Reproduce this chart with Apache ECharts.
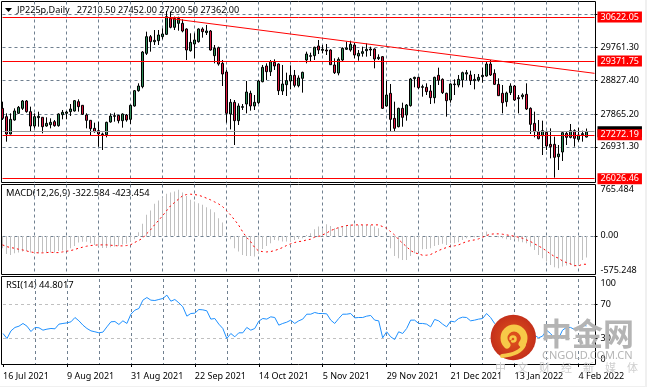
<!DOCTYPE html>
<html>
<head>
<meta charset="utf-8">
<title>JP225p Daily</title>
<script src="https://cdn.jsdelivr.net/npm/echarts@6/dist/echarts.min.js"></script>
<style>
  html, body { margin: 0; padding: 0; background: #f0f0f0; }
  #chart { width: 645px; height: 386px; background: #fff; }
</style>
</head>
<body>
<div id="chart"></div>
<script>
const tickLabels = ['16 Jul 2021', '9 Aug 2021', '31 Aug 2021', '22 Sep 2021', '14 Oct 2021',
  '5 Nov 2021', '29 Nov 2021', '21 Dec 2021', '13 Jan 2022', '4 Feb 2022']

// daily bars
const opens = [
  28026, 27789, 27297, 27695, 27884, 28026, 28235, 27932, 27524, 27761,
  27771, 27524, 27562, 27647, 27534, 27846, 27884, 27932, 27951, 28216,
  28112, 27837, 27685, 27458, 27391, 27297, 27278, 27638, 27799, 27827,
  27676, 27837, 27714, 28093, 28528, 28642, 29589, 30063, 29921, 29949,
  30063, 30129, 30584, 30328, 30442, 30442, 30281, 29665, 29855, 29921,
  30281, 30177, 30224, 29523, 29750, 29305, 29059, 27865, 28197, 27676,
  28055, 28149, 28453, 28093, 28187, 28784, 29229, 29068, 29334, 29286,
  28519, 28699, 28803, 28964, 28670, 28879, 29400, 29504, 29523, 29798,
  29675, 29684, 29684, 29258, 29030, 29400, 29703, 29684, 29826, 29514,
  29589, 29665, 29684, 29712, 29438, 29495, 28093, 28453, 27742, 27505,
  28026, 27837, 28102, 28869, 28907, 28623, 28623, 28519, 28329, 28964,
  28850, 28453, 28263, 28699, 28689, 28832, 29002, 28974, 28813, 28832,
  28926, 28945, 29286, 29021, 28708, 28453, 28216, 28472, 28661, 28329,
  28358, 28424, 28026, 27600, 27363, 27249, 27344, 27003, 27003, 26653,
  26785, 27316, 27202, 27391, 27145, 27278, 27210.5]
const closes = [
  27742, 27297, 27714, 27951, 28055, 28235, 27932, 27524, 27789, 27799,
  27505, 27600, 27628, 27534, 27865, 27913, 27922, 28007, 28244, 28074,
  27856, 27685, 27448, 27363, 27297, 27278, 27628, 27808, 27818, 27676,
  27865, 27695, 28112, 28528, 28661, 29627, 30063, 29921, 29959, 30110,
  30139, 30631, 30328, 30584, 30584, 30224, 29684, 29902, 29968, 30281,
  30205, 30224, 29684, 29731, 29286, 29002, 27884, 28197, 27676, 28093,
  28074, 28490, 28093, 28197, 28803, 29191, 29068, 29352, 29229, 28528,
  28718, 28813, 28964, 28680, 28888, 29049, 29570, 29523, 29760, 29684,
  29703, 29656, 29267, 29040, 29419, 29731, 29741, 29845, 29542, 29589,
  29637, 29703, 29712, 29428, 29476, 28026, 28405, 27714, 27458, 28026,
  27771, 28121, 28860, 28907, 28614, 28642, 28500, 28329, 28907, 28822,
  28472, 28244, 28718, 28718, 28850, 29040, 29040, 28813, 28850, 28907,
  28964, 29286, 28974, 28708, 28386, 28187, 28462, 28661, 28263, 28301,
  28405, 28007, 27571, 27363, 27164, 27391, 26956, 26937, 26634, 26728,
  27335, 27202, 27391, 27174, 27268, 27306, 27362]
const lows = [
  27695, 27079, 27287, 27676, 27865, 27979, 27903, 27363, 27458, 27505,
  27316, 27505, 27458, 27505, 27505, 27714, 27714, 27808, 27932, 27932,
  27837, 27458, 27249, 27335, 26937, 26842, 27202, 27619, 27647, 27600,
  27477, 27647, 27581, 28074, 28500, 28595, 29542, 29637, 29826, 29826,
  29987, 30110, 30300, 30252, 30233, 30186, 29400, 29637, 29447, 29892,
  30035, 30110, 29665, 29305, 29239, 28661, 27619, 27429, 26984, 27553,
  27979, 27884, 27960, 27979, 28149, 28765, 28832, 28945, 29116, 28405,
  28405, 28377, 28566, 28623, 28623, 28472, 29305, 29352, 29400, 29570,
  29589, 29542, 29258, 29002, 28964, 29371, 29684, 29637, 29447, 29381,
  29495, 29495, 29514, 29163, 29400, 28007, 28074, 27363, 27382, 27486,
  27505, 27676, 28074, 28623, 28566, 28358, 28405, 28149, 28168, 28689,
  28434, 27789, 28187, 28405, 28623, 28623, 28832, 28689, 28566, 28784,
  28756, 28926, 28945, 28689, 28377, 27884, 28074, 28405, 28235, 27884,
  28282, 27979, 27297, 27202, 27145, 26700, 26842, 26605, 26056, 26274,
  26530, 26984, 27174, 26937, 27079, 27079, 27200.5]
const highs = [
  28216, 27884, 27884, 28026, 28093, 28263, 28263, 28074, 27884, 27932,
  27771, 27771, 27742, 27695, 27884, 27979, 27951, 28149, 28263, 28282,
  28112, 27884, 27685, 27619, 27647, 27335, 27647, 27884, 27903, 27837,
  27884, 27865, 28130, 28547, 28737, 29656, 30205, 30110, 30252, 30252,
  30300, 30792, 30773, 30631, 30631, 30556, 30300, 30158, 30158, 30300,
  30328, 30395, 30252, 29826, 29779, 29400, 29116, 28291, 28263, 28168,
  28149, 28803, 28528, 28405, 28832, 29258, 29305, 29400, 29419, 29305,
  29258, 29040, 29248, 29116, 28964, 29068, 29637, 29608, 29779, 29968,
  29826, 29855, 29703, 29447, 29476, 29760, 29921, 29949, 29892, 29684,
  29779, 29874, 29779, 29731, 29561, 29514, 28803, 28718, 28216, 28045,
  28187, 28149, 28888, 28926, 28926, 28699, 28737, 28689, 28926, 29182,
  28879, 28472, 28737, 28850, 28974, 29068, 29116, 29097, 29002, 29002,
  29182, 29352, 29400, 29135, 28879, 28689, 28500, 28737, 28689, 28405,
  28453, 28737, 28055, 27932, 27695, 27676, 27391, 27458, 27221, 26984,
  27363, 27382, 27581, 27429, 27477, 27391, 27452]

const macdMain = [
  -184, -268, -283, -258, -249, -234, -224, -249, -268, -258,
  -249, -249, -249, -249, -224, -219, -209, -184, -149, -99,
  -89, -89, -109, -134, -159, -179, -179, -169, -159, -149,
  -129, -119, -84, -50, 55, 179, 313, 378, 477, 527,
  577, 626, 646, 661, 686, 646, 596, 537, 512, 487,
  462, 427, 398, 353, 263, 199, -10, -50, -184, -234,
  -283, -298, -298, -308, -268, -194, -149, -109, -60, -70,
  -84, -84, -75, -60, -45, -35, 15, 40, 99, 139,
  114, 174, 149, 114, 124, 149, 164, 169, 174, 164,
  164, 164, 164, 139, 114, -10, -5, -184, -298, -333,
  -358, -358, -298, -258, -234, -199, -194, -184, -149, -134,
  -119, -134, -109, -109, -94, -60, -35, -20, -20, -10,
  40, 65, -5, -10, -20, -35, -50, -60, -50, -84,
  -94, -109, -159, -209, -283, -333, -383, -432, -467, -482,
  -457, -442, -432, -457, -432, -358, -322.584]
const macdSignal = [
  -134, -159, -174, -184, -199, -209, -224, -239, -249, -253,
  -253, -249, -244, -249, -249, -239, -229, -219, -204, -184,
  -169, -154, -144, -139, -134, -134, -134, -139, -144, -149,
  -149, -144, -134, -99, -70, -35, 30, 89, 164, 229,
  298, 373, 447, 497, 547, 596, 616, 621, 616, 606,
  586, 562, 537, 507, 477, 437, 378, 313, 239, 164,
  65, -20, -84, -169, -224, -234, -239, -234, -219, -199,
  -174, -144, -119, -99, -84, -80, -60, -50, -20, -10,
  15, 40, 80, 99, 124, 139, 154, 159, 164, 164,
  164, 164, 164, 164, 164, 139, 114, 65, 15, -50,
  -109, -159, -219, -249, -268, -288, -288, -278, -249, -219,
  -194, -174, -154, -149, -134, -109, -84, -70, -60, -45,
  -20, 5, 25, 30, 30, 25, 15, 5, -5, -20,
  -35, -60, -84, -119, -149, -184, -224, -268, -308, -333,
  -373, -398, -417, -442, -447, -422, -423.454]
const rsiValues = [
  35.9, 30.0, 39.0, 43.0, 44.5, 47.7, 44.5, 38.2, 43.0, 42.6,
  39.8, 41.0, 41.8, 41.4, 46.9, 47.7, 48.4, 49.6, 54.7, 50.8,
  45.7, 41.8, 39.0, 37.9, 36.7, 37.5, 43.7, 49.6, 50.0, 46.5,
  50.8, 47.7, 58.6, 63.3, 65.3, 75.1, 78.2, 75.1, 74.7, 75.9,
  77.1, 81.0, 73.9, 75.9, 72.0, 67.3, 56.3, 59.4, 59.8, 64.1,
  63.7, 62.6, 52.8, 53.5, 46.9, 41.8, 30.0, 35.9, 32.0, 36.7,
  36.7, 43.0, 39.8, 41.8, 50.4, 53.5, 52.8, 55.5, 54.7, 45.7,
  47.7, 49.2, 51.6, 47.7, 50.8, 52.8, 58.6, 58.6, 60.6, 59.4,
  59.4, 59.0, 51.6, 47.7, 53.5, 58.6, 58.6, 59.4, 54.3, 54.7,
  54.7, 56.3, 57.1, 51.6, 50.8, 30.8, 37.9, 32.0, 28.8, 37.9,
  35.9, 41.8, 51.6, 51.6, 47.7, 47.7, 46.9, 43.7, 52.4, 50.8,
  46.9, 43.7, 50.4, 49.6, 53.5, 55.1, 54.7, 50.8, 51.6, 52.8,
  53.5, 59.4, 54.7, 47.7, 43.0, 40.6, 39.8, 39.8, 41.8, 39.8,
  39.0, 36.7, 35.9, 33.9, 30.8, 32.8, 39.8, 35.9, 30.0, 30.0,
  39.8, 43.0, 43.0, 40.6, 41.8, 45.7, 44.8]

const priceGrid = [26931.3, 27865.2, 28827.4, 29761.3, 30690]
const priceTicks = [26931.3, 27865.2, 28827.4, 29761.3]
const redLevels = [30622.05, 29371.75, 27272.19, 26026.46]
const bidPrice = 27362
const trendLine = [[42, 30579], [148, 29021]]
const macdTicks = [-575.248, 0, 765.484]
const rsiTicks = [0, 30, 70, 100]
const rsiLevels = [30, 70]

const headerText = 'JP225p,Daily   27210.50 27452.00 27200.50 27362.00'
const macdText = 'MACD(12,26,9) -322.584 -423.454'
const rsiText = 'RSI(14) 44.8017'

// two empty bars of room on the right, as in the terminal
const categories = Array.from({ length: opens.length + 2 }, (_, i) => tickLabels[i / 16] || '')
const candles = opens.map((o, i) => [o, closes[i], lows[i], highs[i]])

const font = '"Noto Sans", sans-serif'
const gridLine = { color: '#708090', type: [3, 3], width: 1 }

const makeXAxis = (gridIndex, withLabels) => ({
  type: 'category',
  gridIndex,
  data: categories,
  boundaryGap: false,
  axisLine: { show: false },
  axisTick: { show: withLabels, interval: 15, length: 3, lineStyle: { color: '#000' } },
  axisLabel: {
    show: withLabels,
    interval: 15,
    align: 'left',
    margin: 8,
    color: '#000',
    fontFamily: font,
    fontSize: 9
  },
  splitLine: { show: true, interval: 7, showMinLine: false, lineStyle: gridLine }
})

const makeYAxis = (gridIndex, range, tickValues, gridValues, formatter, lineStyle) => ({
  type: 'value',
  gridIndex,
  position: 'right',
  min: range[0],
  max: range[1],
  scale: true,
  axisLine: { show: false },
  axisTick: { show: true, length: 3, customValues: gridValues, lineStyle: { color: '#000' } },
  axisLabel: {
    customValues: tickValues,
    formatter,
    margin: 6,
    color: '#000',
    fontFamily: font,
    fontSize: 9,
    verticalAlignMinLabel: gridIndex === 0 ? 'middle' : 'bottom',
    verticalAlignMaxLabel: gridIndex === 0 ? 'middle' : 'top'
  },
  splitLine: { show: true, lineStyle }
})

const priceTag = (value, background, textColor, lineStyle) => ({
  yAxis: value,
  lineStyle,
  label: {
    show: true,
    position: 'end',
    distance: 3,
    formatter: () => value.toFixed(2),
    color: textColor,
    backgroundColor: background,
    fontFamily: font,
    fontSize: 9,
    lineHeight: 11,
    padding: [0, 3]
  }
})

const swirl = { stroke: '#f7c948', fill: 'none', lineCap: 'round' }

const option = {
  animation: false,
  grid: [
    { left: 2.5, top: 1.5, width: 592, height: 181 },
    { left: 2.5, top: 184.5, width: 592, height: 90 },
    { left: 2.5, top: 279, width: 592, height: 85 },
    // panel frames
    { show: true, left: 1.5, top: 1.5, width: 594, height: 181, borderColor: '#000', borderWidth: 1, backgroundColor: 'transparent' },
    { show: true, left: 1.5, top: 184.5, width: 594, height: 90, borderColor: '#000', borderWidth: 1, backgroundColor: 'transparent' },
    { show: true, left: 1.5, top: 276.5, width: 594, height: 88, borderColor: '#000', borderWidth: 1, backgroundColor: 'transparent' }
  ],
  xAxis: [makeXAxis(0, false), makeXAxis(1, false), makeXAxis(2, true)],
  yAxis: [
    makeYAxis(0, [25918.6, 31062.4], priceTicks, priceGrid, v => v.toFixed(2), gridLine),
    makeYAxis(1, [-575.248, 765.484], macdTicks, [0], v => (v === 0 ? '0.00' : v.toFixed(3)), gridLine),
    makeYAxis(2, [0, 100], rsiTicks, rsiLevels, v => String(v), { color: '#c0c0c0', type: [3, 3], width: 1 })
  ],
  series: [
    {
      type: 'candlestick',
      xAxisIndex: 0,
      yAxisIndex: 0,
      data: candles,
      barWidth: 3,
      clip: false,
      itemStyle: {
        color: '#2e8b57',
        color0: '#dc143c',
        borderColor: '#000',
        borderColor0: '#000',
        borderWidth: 1
      },
      markLine: {
        silent: true,
        symbol: 'none',
        animation: false,
        data: [
          // only a sliver of the bid tag shows above the red one
          priceTag(bidPrice, '#000', '#000', { color: '#9a9a9a', type: 'solid', width: 1 }),
          ...redLevels.map(v => priceTag(v, '#ff0000', '#fff', { color: '#ff0000', type: 'solid', width: 1 })),
          [
            { coord: trendLine[0], lineStyle: { color: '#ff0000', type: 'solid', width: 1 }, label: { show: false } },
            { coord: trendLine[1] }
          ]
        ]
      }
    },
    {
      type: 'bar',
      xAxisIndex: 1,
      yAxisIndex: 1,
      data: macdMain,
      barWidth: 1,
      clip: false,
      itemStyle: { color: '#c0c0c0' }
    },
    {
      type: 'line',
      xAxisIndex: 1,
      yAxisIndex: 1,
      data: macdSignal,
      showSymbol: false,
      clip: false,
      lineStyle: { color: '#ff0000', type: [2, 3], width: 1 }
    },
    {
      type: 'line',
      xAxisIndex: 2,
      yAxisIndex: 2,
      data: rsiValues,
      showSymbol: false,
      clip: false,
      lineStyle: { color: '#1e90ff', width: 1 }
    }
  ],
  graphic: [
    { type: 'polygon', shape: { points: [[5, 8], [12, 8], [8.5, 12]] }, style: { fill: '#000' } },
    { type: 'text', x: 17, y: 10, style: { text: headerText, fill: '#000', font: '9.1px ' + font, textVerticalAlign: 'middle' } },
    { type: 'text', x: 6, y: 193, style: { text: macdText, fill: '#000', font: '9.3px ' + font, textVerticalAlign: 'middle' } },
    { type: 'text', x: 6, y: 285.5, style: { text: rsiText, fill: '#000', font: '9.4px ' + font, textVerticalAlign: 'middle' } },
    // watermark
    {
      type: 'circle',
      z: 50,
      shape: { cx: 513.3, cy: 337.5, r: 22.7 },
      style: {
        fill: {
          type: 'radial', x: 0.5, y: 0.5, r: 0.5,
          colorStops: [{ offset: 0, color: '#e2551c' }, { offset: 1, color: '#c4301a' }]
        }
      }
    },
    { type: 'arc', z: 51, shape: { cx: 514, cy: 338, r: 10, startAngle: Math.PI * 0.75, endAngle: Math.PI * 2.2, clockwise: true }, style: { ...swirl, lineWidth: 7 } },
    { type: 'arc', z: 51, shape: { cx: 513, cy: 339, r: 2.5, startAngle: Math.PI, endAngle: Math.PI * 2.6, clockwise: true }, style: { ...swirl, lineWidth: 2.5 } },
    { type: 'bezierCurve', z: 51, shape: { x1: 524, y1: 345, cpx1: 521, cpy1: 352, cpx2: 512, cpy2: 355, x2: 502, y2: 356 }, style: { ...swirl, lineWidth: 4 } },
    { type: 'text', z: 51, x: 541, y: 333.5, style: { text: '中金网', fill: '#b4b4b4', font: 'bold 31px "Noto Sans CJK SC"', textVerticalAlign: 'middle' } },
    { type: 'text', z: 51, x: 542, y: 355.5, style: { text: 'CNGOLD.COM.CN', fill: '#b5b5b5', font: '11px ' + font, textVerticalAlign: 'middle' } },
    { type: 'text', z: 51, x: 495, y: 368, style: { text: '中　文　财　经　新　媒　体', fill: '#cfcfcf', font: '11px "Noto Sans CJK SC"', textVerticalAlign: 'middle' } }
  ]
}

const chart = echarts.init(document.getElementById('chart'))
chart.setOption(option)
</script>
</body>
</html>
